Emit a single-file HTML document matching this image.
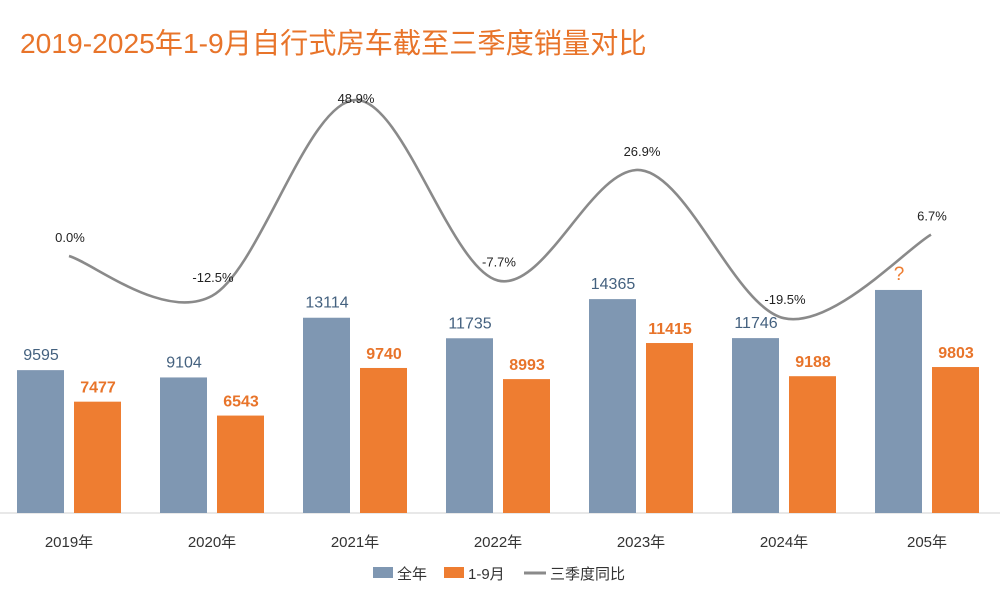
<!DOCTYPE html>
<html><head><meta charset="utf-8"><style>
body{margin:0;background:#fff;}
svg text{font-family:"Liberation Sans","Noto Sans CJK SC",sans-serif;}
</style></head><body>
<svg id="c" width="1000" height="604" viewBox="0 0 1000 604" xmlns="http://www.w3.org/2000/svg">
<text x="20" y="53" font-size="28.2" fill="#e8742a">2019-2025年1-9月自行式房车截至三季度销量对比</text>
<line x1="0" y1="513" x2="1000" y2="513" stroke="#d0d0d0" stroke-width="1"/>
<g id="bars"></g>
<g id="line"></g>
<g>
<rect x="373" y="567" width="20" height="11" fill="#7f97b2"/>
<text x="397" y="579" font-size="15" fill="#333">全年</text>
<rect x="444" y="567" width="20" height="11" fill="#ee7d31"/>
<text x="468" y="579" font-size="15" fill="#333">1-9月</text>
<line x1="524" y1="573" x2="546" y2="573" stroke="#8a8a8a" stroke-width="3"/>
<text x="550" y="579" font-size="15" fill="#333">三季度同比</text>
</g>
</svg>
<script>
const categories=["2019年","2020年","2021年","2022年","2023年","2024年","205年"];
const fullYear=[9595,9104,13114,11735,14365,11746,14980];
const fullYearLabels=["9595","9104","13114","11735","14365","11746","?"];
const janSep=[7477,6543,9740,8993,11415,9188,9803];
const yoy=[0.0,-12.5,48.9,-7.7,26.9,-19.5,6.7];
const yoyLabels=["0.0%","-12.5%","48.9%","-7.7%","26.9%","-19.5%","6.7%"];
const NS="http://www.w3.org/2000/svg";
const xc=i=>69+i*143;
const yb=v=>513-v*0.01489;
const yl=p=>256-p*3.19;
const bars=document.getElementById('bars'),lg=document.getElementById('line');
function mk(tag,attrs,parent,txt){const e=document.createElementNS(NS,tag);for(const k in attrs)e.setAttribute(k,attrs[k]);if(txt!==undefined)e.textContent=txt;parent.appendChild(e);return e;}
categories.forEach((c,i)=>{
  const x=xc(i);
  let r=mk('rect',{x:x-52,y:yb(fullYear[i]),width:47,height:513-yb(fullYear[i]),fill:'#7f97b2'},bars);
  
  
  r=mk('rect',{x:x+5,y:yb(janSep[i]),width:47,height:513-yb(janSep[i]),fill:'#ee7d31'},bars);
  
  
  const last=fullYearLabels[i]==="?";
  let t=mk('text',{x:x-28,y:yb(fullYear[i])-10,'font-size':last?19:16,fill:last?'#ee7d31':'#44617f','text-anchor':'middle'},bars,fullYearLabels[i]);
  
  
  t=mk('text',{x:x+29,y:yb(janSep[i])-9,'font-size':16,'font-weight':'bold',fill:'#e8742a','text-anchor':'middle'},bars,String(janSep[i]));
  
  
  t=mk('text',{x:x,y:547,'font-size':15,fill:'#333','text-anchor':'middle'},bars,c);
  
  
});
const pts=yoy.map((p,i)=>[xc(i)+(i==6?4:0),yl(p)]);
let d='M'+pts[0][0]+','+pts[0][1];
for(let i=0;i<pts.length-1;i++){
  const p0=pts[Math.max(0,i-1)],p1=pts[i],p2=pts[i+1],p3=pts[Math.min(pts.length-1,i+2)];
  const c1=[p1[0]+(p2[0]-p0[0])/6,p1[1]+(p2[1]-p0[1])/6];
  const c2=[p2[0]-(p3[0]-p1[0])/6,p2[1]-(p3[1]-p1[1])/6];
  d+=` C${c1[0]},${c1[1]} ${c2[0]},${c2[1]} ${p2[0]},${p2[1]}`;
}
const path=mk('path',{d:d,fill:'none',stroke:'#8a8a8a','stroke-width':2.6},lg);


yoyLabels.forEach((l,i)=>{
  const ty=Math.max(pts[i][1]-14,103);
  const t=mk('text',{x:pts[i][0]+1,y:ty,'font-size':13,fill:'#222','text-anchor':'middle'},lg,l);
  
  
});
</script>
</body></html>
